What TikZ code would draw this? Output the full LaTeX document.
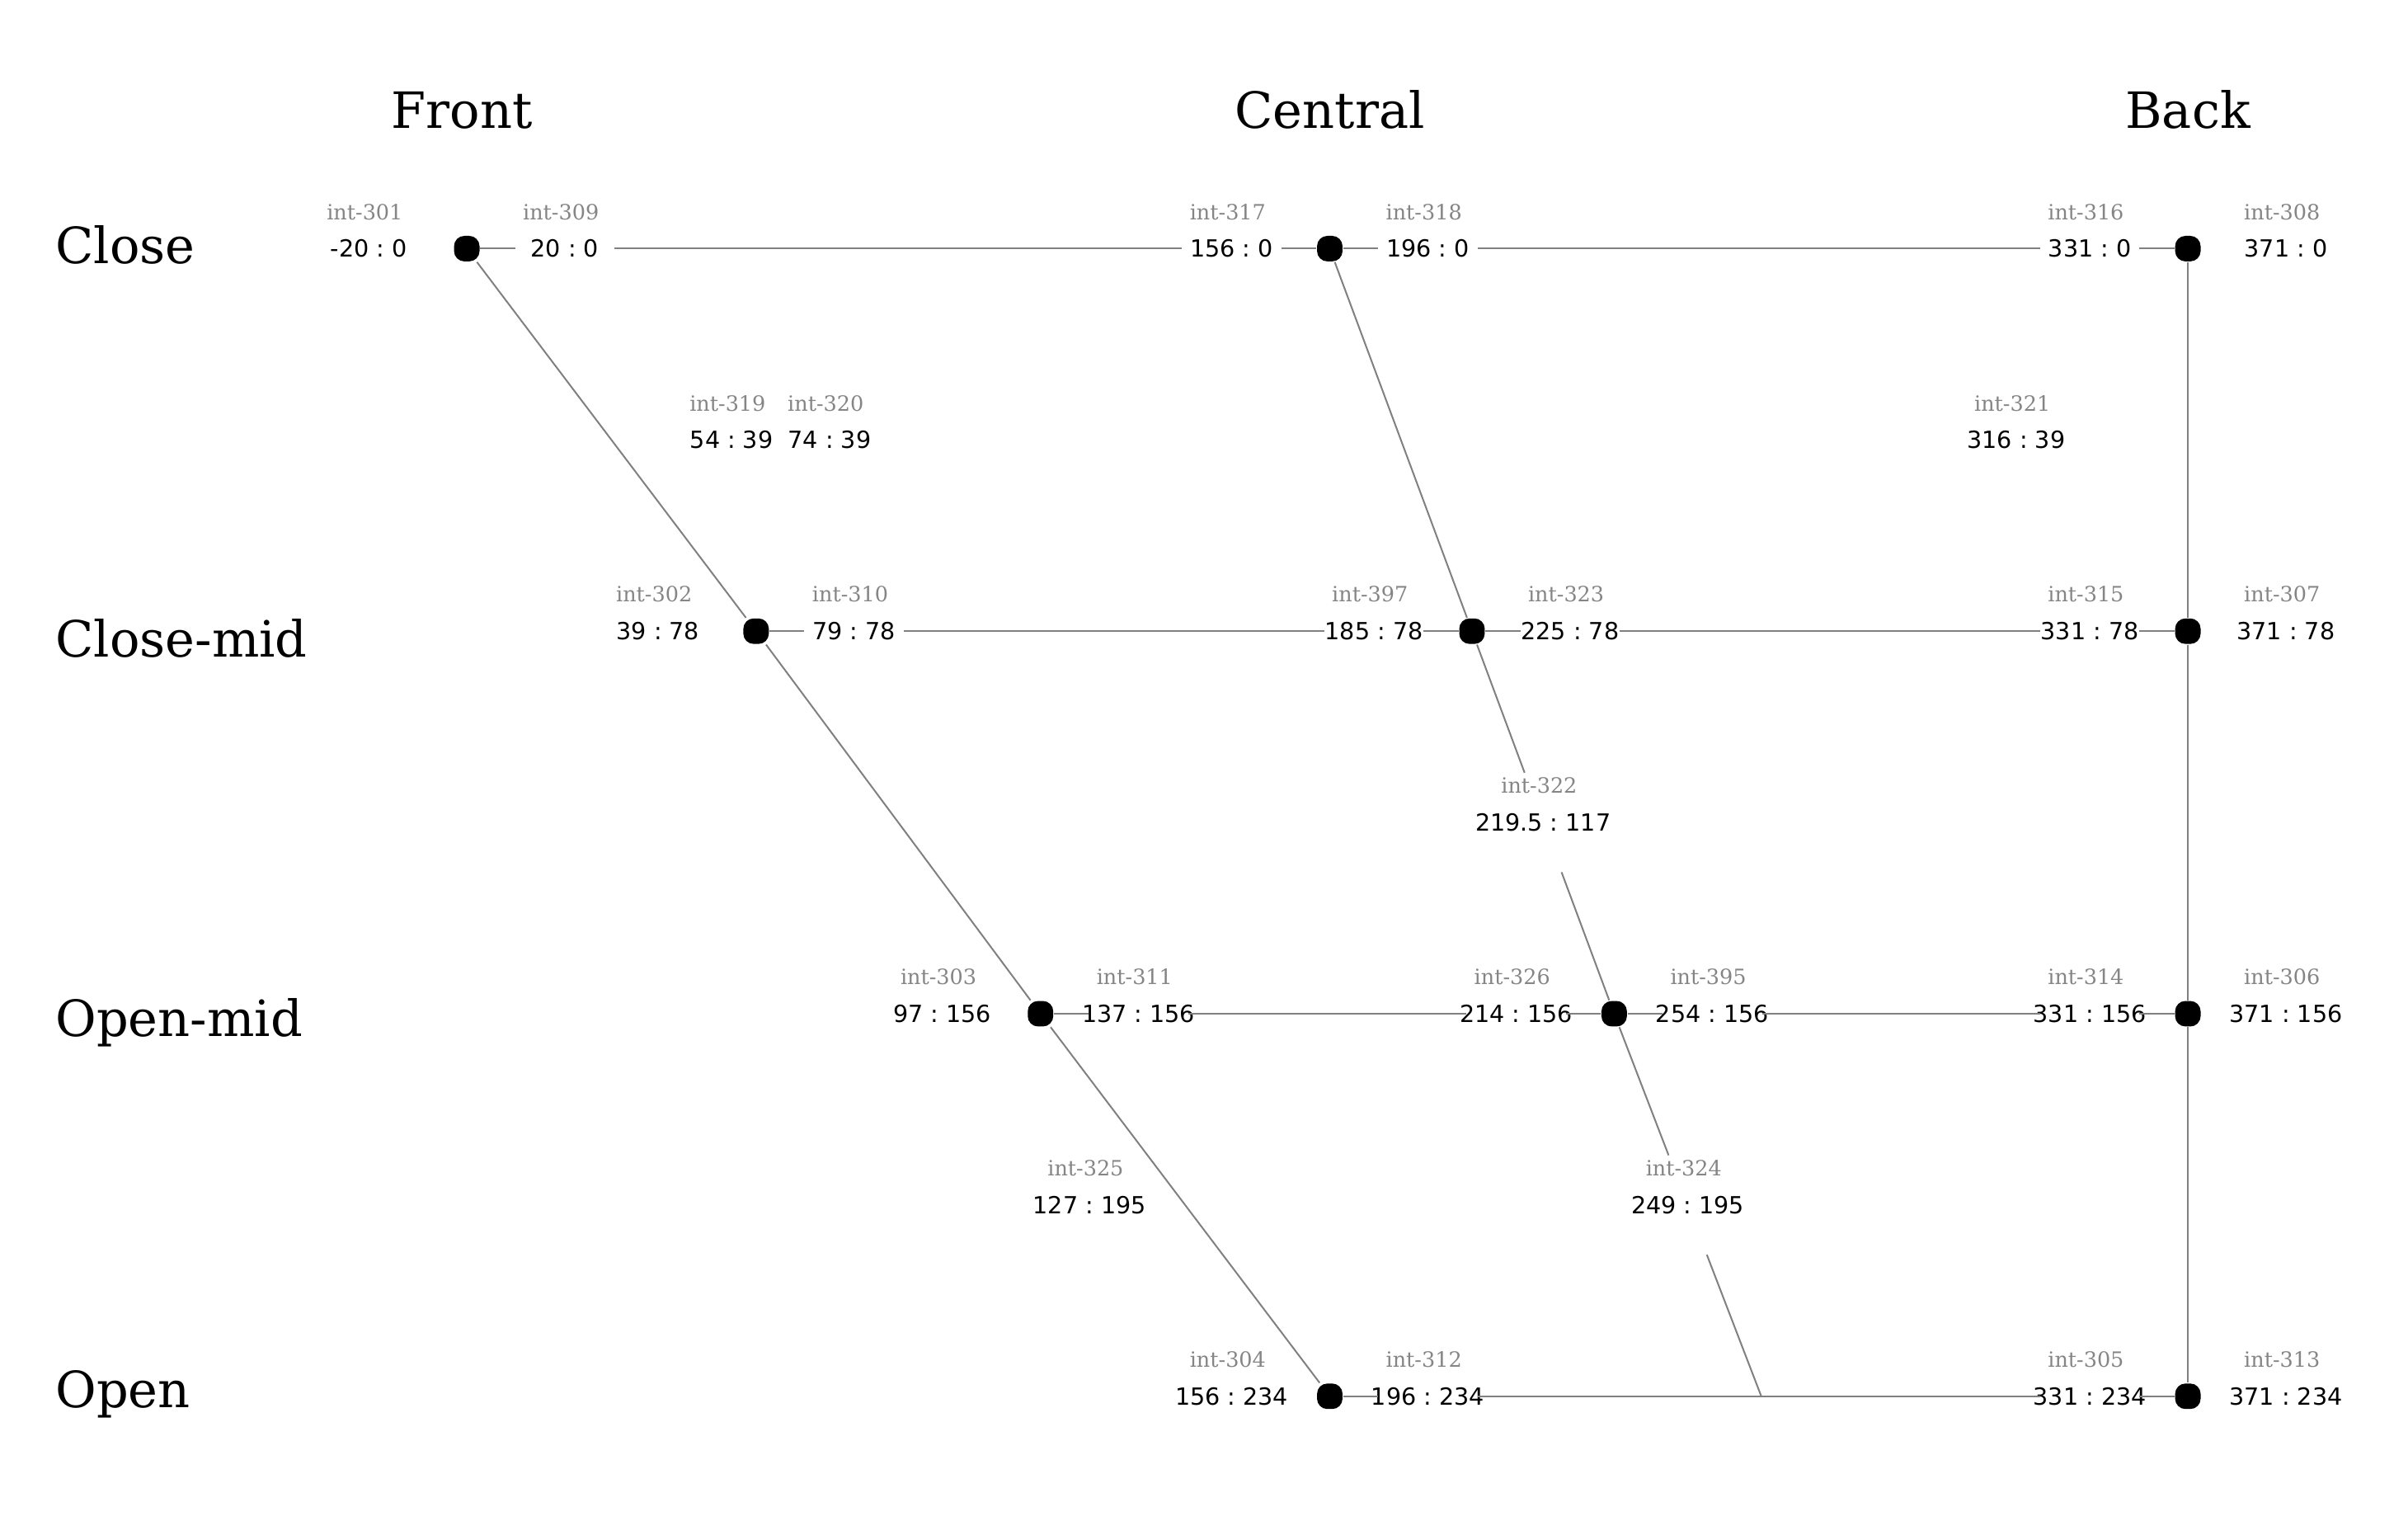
\documentclass[tikz,border=0pt]{standalone}
\usepackage{fontspec}
\usepackage{tikz}
\usetikzlibrary{positioning}
\newfontfamily\serifdv{DejaVu Serif}
\newfontfamily\sansdv{DejaVu Sans}
\definecolor{linegray}{HTML}{808080}
\definecolor{idgray}{HTML}{858585}

\begin{document}
\begin{tikzpicture}[
    x=0.05cm, y=-0.05cm,
    vowel/.style={rectangle, fill=black, minimum size=0.26cm, inner sep=0pt,
                  rounded corners=3pt},
    vlabel/.style={rectangle, minimum width=1cm, minimum height=1cm, inner sep=0pt,
                   font=\sansdv\fontsize{6.84}{8}\selectfont},
    idlabel/.style={inner sep=0pt, text=idgray,
                    font=\serifdv\fontsize{6.1}{7}\selectfont},
    heading/.style={anchor=base, inner sep=0pt,
                    font=\serifdv\fontsize{14.5}{17}\selectfont},
    rowlabel/.style={anchor=base west, inner sep=0pt,
                     font=\serifdv\fontsize{14.5}{17}\selectfont},
    link/.style={draw=linegray, line width=0.48pt}
]
    \useasboundingbox (-95.2,-50.7) rectangle (395.9,259.3);

    \node[heading] (front) at (-1,-24.6) {Front};
    \node[heading] (central) at (176,-24.6) {Central};
    \node[heading] (back) at (351,-24.6) {Back};

    \node[rowlabel] (close) at (-84,3.1) {Close};
    \node[rowlabel] (closemid) at (-84,83.2) {Close-mid};
    \node[rowlabel] (openmid) at (-84,160.7) {Open-mid};
    \node[rowlabel] (open) at (-84,236.3) {Open};

    \foreach \id/\x/\y in {301/-20/0, 309/20/0, 317/156/0, 318/196/0, 316/331/0, 308/371/0,
                           319/54/39, 320/74/39, 321/316/39,
                           302/39/78, 310/79/78, 397/185/78, 323/225/78, 315/331/78, 307/371/78,
                           322/219.5/117,
                           303/97/156, 311/137/156, 326/214/156, 395/254/156, 314/331/156, 306/371/156,
                           325/127/195, 324/249/195,
                           304/156/234, 312/196/234, 305/331/234, 313/371/234}{
        \node[vlabel] (l\id) at (\x,\y) {\makebox[0pt]{\x\ :\ \y}};
        \node[idlabel] (i\id) at (\x-0.8,\y-7.5) {int-\id};
    }

    \node[vowel] (d301) at (0,0) {};
    \node[vowel] (d317) at (176,0) {};
    \node[vowel] (d316) at (351,0) {};
    \node[vowel] (d302) at (59,78) {};
    \node[vowel] (d397) at (205,78) {};
    \node[vowel] (d315) at (351,78) {};
    \node[vowel] (d303) at (117,156) {};
    \node[vowel] (d326) at (234,156) {};
    \node[vowel] (d314) at (351,156) {};
    \node[vowel] (d304) at (176,234) {};
    \node[vowel] (d305) at (351,234) {};
    \coordinate (c324) at (264,234);

    \draw[link] (d301) -- (l309) -- (l317) -- (d317) -- (l318) -- (l316) -- (d316);
    \draw[link] (d302) -- (l310) -- (l397) -- (d397) -- (l323) -- (l315) -- (d315);
    \draw[link] (d303) -- (l311) -- (l326) -- (d326) -- (l395) -- (l314) -- (d314);
    \draw[link] (d304) -- (l312) -- (l305) -- (d305);
    \draw[link] (d316) -- (d315) -- (d314) -- (d305);
    \draw[link] (d301) -- (d302) -- (d303) -- (d304);
    \draw[link] (d317) -- (d397) -- (l322) -- (d326) -- (l324) -- (c324);
\end{tikzpicture}
\end{document}
